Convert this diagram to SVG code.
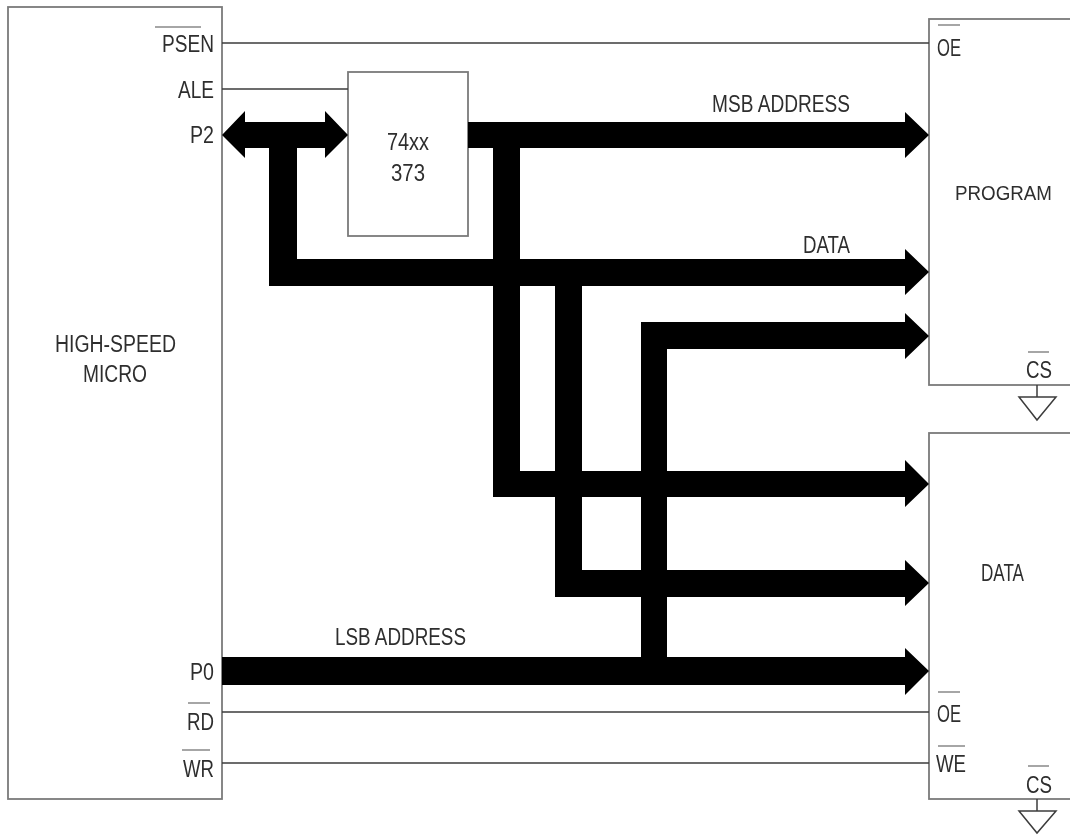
<svg xmlns="http://www.w3.org/2000/svg" width="1070" height="836" viewBox="0 0 1070 836">
<defs>
<filter id="soft" x="-5%" y="-20%" width="110%" height="140%"><feGaussianBlur stdDeviation="0.45"/></filter>
</defs>
<style>
.box{fill:#fff;stroke:#7a7a7a;stroke-width:1.8}
.wire{fill:none;stroke:#3c3c3c;stroke-width:1.5}
.bar{fill:none;stroke:#888;stroke-width:1.5}
.bus{fill:#000;stroke:none}
text{font-family:"Liberation Sans",Arial,sans-serif;font-size:23px;fill:#2e2e2e;filter:url(#soft)}
</style>
<rect width="1070" height="836" fill="#fff"/>
<g id="node-micro">
<rect class="box" x="8" y="7" width="214" height="792"/>
<text x="55" y="352" textLength="121" lengthAdjust="spacingAndGlyphs">HIGH-SPEED</text>
<text x="83" y="382" textLength="64" lengthAdjust="spacingAndGlyphs">MICRO</text>
<text x="162" y="52" textLength="52" lengthAdjust="spacingAndGlyphs">PSEN</text>
<line class="bar" x1="155" y1="27" x2="201" y2="27"/>
<text x="178" y="98" textLength="36" lengthAdjust="spacingAndGlyphs">ALE</text>
<text x="190" y="143" textLength="24" lengthAdjust="spacingAndGlyphs">P2</text>
<text x="190" y="680" textLength="24" lengthAdjust="spacingAndGlyphs">P0</text>
<text x="187" y="730" textLength="27" lengthAdjust="spacingAndGlyphs">RD</text>
<line class="bar" x1="188" y1="703" x2="210" y2="703"/>
<text x="183" y="777" textLength="31" lengthAdjust="spacingAndGlyphs">WR</text>
<line class="bar" x1="182" y1="750" x2="210" y2="750"/>
</g>
<g id="node-latch">
<rect class="box" x="348" y="72" width="120" height="164"/>
<text x="387" y="150" textLength="42" lengthAdjust="spacingAndGlyphs">74xx</text>
<text x="391" y="181" textLength="34" lengthAdjust="spacingAndGlyphs">373</text>
</g>
<g id="node-program">
<rect class="box" x="929" y="19" width="150" height="366"/>
<text x="955" y="200" textLength="97" lengthAdjust="spacingAndGlyphs" style="font-size:21px">PROGRAM</text>
<text x="937" y="56" textLength="24" lengthAdjust="spacingAndGlyphs">OE</text>
<line class="bar" x1="938" y1="25" x2="960" y2="25"/>
<text x="1026" y="378" textLength="26" lengthAdjust="spacingAndGlyphs">CS</text>
<line class="bar" x1="1028" y1="352" x2="1049" y2="352"/>
<path class="wire" d="M1037 385V397M1019 397H1056L1037 420Z"/>
</g>
<g id="node-data">
<rect class="box" x="929" y="433" width="150" height="366"/>
<text x="981" y="581" textLength="43" lengthAdjust="spacingAndGlyphs">DATA</text>
<text x="937" y="722" textLength="24" lengthAdjust="spacingAndGlyphs">OE</text>
<line class="bar" x1="938" y1="692" x2="960" y2="692"/>
<text x="936" y="772" textLength="30" lengthAdjust="spacingAndGlyphs">WE</text>
<line class="bar" x1="938" y1="746" x2="965" y2="746"/>
<text x="1026" y="793" textLength="26" lengthAdjust="spacingAndGlyphs">CS</text>
<line class="bar" x1="1028" y1="766" x2="1049" y2="766"/>
<path class="wire" d="M1037 799V811M1019 811H1056L1037 833Z"/>
</g>
<g id="connectors">
<path class="wire" d="M222 43H929M222 89H348M222 712H929M222 763H929"/>
<path class="bus" d="M222 135L245 111V122H325V111L348 135L325 158V148H297V259H905V249L929 272L905 295V286H269V148H245V158Z"/>
<path class="bus" d="M468 122H905V112L929 135L905 158V148H520V471H905V460L929 484L905 507V497H493V148H468Z"/>
<path class="bus" d="M555 286H582V570H905V560L929 583L905 606V597H555Z"/>
<path class="bus" d="M222 657H641V322H905V313L929 336L905 359V349H667V657H905V648L929 671L905 695V685H222Z"/>
<text x="712" y="112" textLength="138" lengthAdjust="spacingAndGlyphs">MSB ADDRESS</text>
<text x="803" y="253" textLength="47" lengthAdjust="spacingAndGlyphs">DATA</text>
<text x="335" y="645" textLength="131" lengthAdjust="spacingAndGlyphs">LSB ADDRESS</text>
</g>
</svg>
